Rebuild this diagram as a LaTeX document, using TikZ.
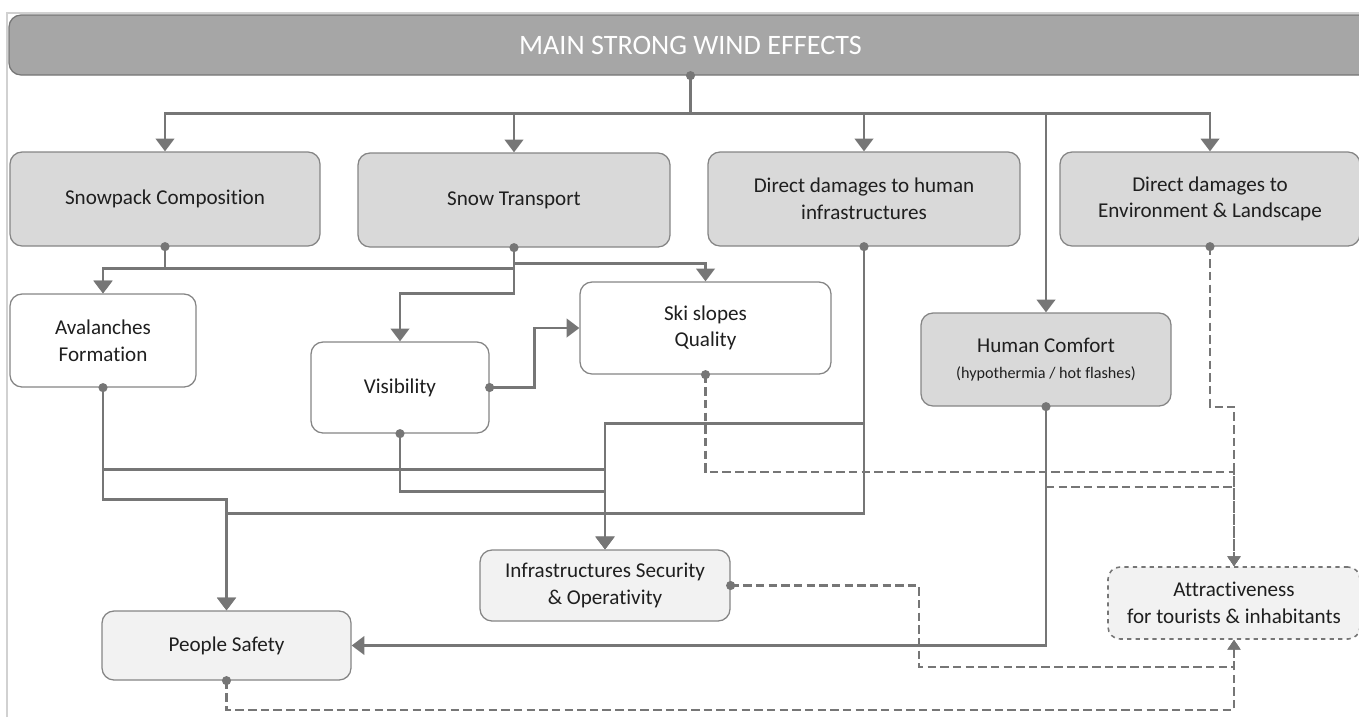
\documentclass[tikz,border=0pt]{standalone}
\usepackage{fontspec}
\setmainfont{Carlito}[Ligatures=NoCommon]
\usetikzlibrary{arrows.meta}
\definecolor{lineg}{HTML}{767676}
\definecolor{boxline}{HTML}{858585}
\definecolor{headfill}{HTML}{A6A6A6}
\definecolor{midfill}{HTML}{D9D9D9}
\definecolor{lightfill}{HTML}{F2F2F2}
\definecolor{txt}{HTML}{1F1F1F}
\tikzset{
  boxsize/.style 2 args={minimum width=#1*0.025cm, minimum height=#2*0.025cm},
  box/.style={draw=boxline, line width=0.9pt, rounded corners=0.3cm, inner sep=0pt,
    align=center, text=txt, font=\fontsize{15}{19}\selectfont},
  head/.style={box, fill=headfill, draw=lineg, text=white, font=\fontsize{20}{24}\selectfont},
  effect/.style={box, fill=midfill},
  sub/.style={box, fill=white},
  final/.style={box, fill=lightfill},
  dot/.style={circle, fill=lineg, inner sep=0pt, minimum size=6.5pt},
  arr/.style={draw=lineg, line width=2pt, -{Triangle[width=13pt,length=9pt]}},
  darr/.style={draw=lineg, line width=1.6pt, dash pattern=on 6pt off 3pt,
    -{Triangle[width=9pt,length=7pt]}},
  frame/.style={draw=black!18, line width=0.8pt}
}
\begin{document}
\begin{tikzpicture}[x=0.025cm,y=-0.025cm]
  \useasboundingbox (0,0) rectangle (1359,717);
  \draw[frame] (7,717) -- (7,13) -- (1359,13);
  % boxes
  \node[head, boxsize={1363}{60}] (top) at (690.5,45) {MAIN STRONG WIND EFFECTS};
  \node[effect, boxsize={310}{94}] (snow) at (165,199) {Snowpack Composition};
  \node[effect, boxsize={312}{94}] (trans) at (514,200) {Snow Transport};
  \node[effect, boxsize={312}{94}] (infra) at (864,199) {Direct damages to human\\infrastructures};
  \node[effect, boxsize={300}{94}] (env) at (1210,199) {Direct damages to\\Environment \& Landscape};
  \node[sub, boxsize={186}{93}] (aval) at (103,340.5) {Avalanches\\Formation};
  \node[sub, boxsize={178}{91}] (vis) at (400,387.5) {Visibility};
  \node[sub, boxsize={251}{92}] (ski) at (705.5,328) {Ski slopes\\Quality};
  \node[effect, boxsize={250}{93}] (comf) at (1046,359.5)
    {Human Comfort\\{\fontsize{11.5}{15}\selectfont(hypothermia / hot flashes)}};
  \node[final, boxsize={250}{71}] (sec) at (605,585.5) {Infrastructures Security\\\& Operativity};
  \node[final, boxsize={249}{69}] (safe) at (226.5,645.5) {People Safety};
  \node[final, dashed, draw=lineg, line width=1.1pt, boxsize={252}{72}] (attr) at (1234,603)
    {Attractiveness\\for tourists \& inhabitants};
  % solid links
  \draw[arr] (top.south) node[dot]{} -- ++(0,38) -| (snow.north);
  \draw[arr] (top.south) -- ++(0,38) -| (trans.north);
  \draw[arr] (top.south) -- ++(0,38) -| (infra.north);
  \draw[arr] (top.south) -- ++(0,38) -| (env.north);
  \draw[arr] (top.south) -- ++(0,38) -| (comf.north);
  \draw[arr] (snow.south) node[dot]{} -- ++(0,22) -| (aval.north);
  \draw[arr] (trans.south) node[dot]{} -- ++(0,21) -| (aval.north);
  \draw[arr] (trans.south) -- ++(0,16) -| (ski.north);
  \draw[arr] (trans.south) -- ++(0,46) -| (vis.north);
  \draw[arr] (vis.east) node[dot]{} -- ++(45,0) |- (ski.west);
  \draw[arr] (aval.south) node[dot]{} -- ++(0,112) -| (safe.north);
  \draw[arr] (aval.south) -- ++(0,82) -| (sec.north);
  \draw[arr] (vis.south) node[dot]{} -- ++(0,58) -| (sec.north);
  \draw[arr] (infra.south) node[dot]{} -- ++(0,177) -| (sec.north);
  \draw[arr] (infra.south) -- ++(0,267) -| (safe.north);
  \draw[arr] (comf.south) node[dot]{} |- (safe.east);
  % dashed links
  \draw[darr] (env.south) node[dot]{} -- ++(0,160) -| (attr.north);
  \draw[darr] (ski.south) node[dot]{} -- ++(0,97) -| (attr.north);
  \draw[darr] (comf.south) ++(0,80) -| (attr.north);
  \draw[darr] (sec.east) node[dot]{} -| ++(188,81.5) -| (attr.south);
  \draw[darr] (safe.south) node[dot]{} -- ++(0,29) -| (attr.south);
\end{tikzpicture}
\end{document}
